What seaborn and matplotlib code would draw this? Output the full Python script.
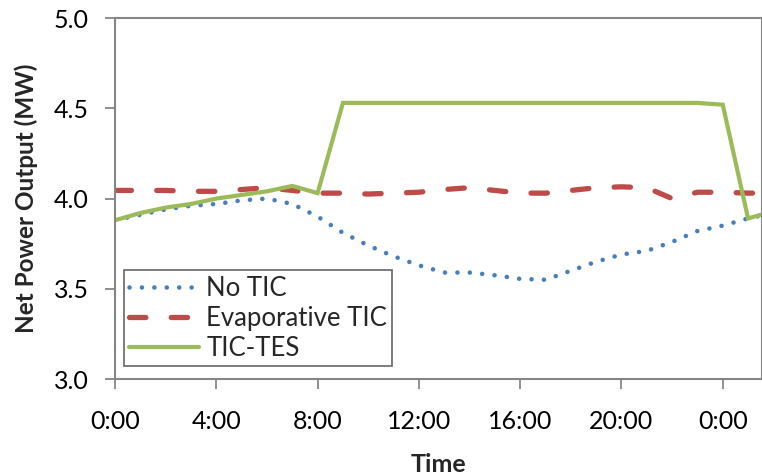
import matplotlib
matplotlib.use("Agg")
import matplotlib.pyplot as plt
import numpy as np
import pandas as pd
import seaborn as sns

# Hourly net power output over one day plus the start of the next (hours 0..26)
hours = list(range(27))
no_tic = [3.88, 3.91, 3.94, 3.96, 3.97, 3.99, 4.00, 3.97, 3.90, 3.81, 3.74, 3.68,
          3.63, 3.59, 3.59, 3.575, 3.555, 3.55, 3.60, 3.65, 3.69, 3.71, 3.76, 3.82,
          3.85, 3.89, 3.92]
evaporative_tic = [4.045, 4.045, 4.045, 4.04, 4.04, 4.05, 4.06, 4.045, 4.03, 4.03,
                   4.025, 4.03, 4.035, 4.05, 4.06, 4.045, 4.03, 4.03, 4.045, 4.06,
                   4.065, 4.06, 4.00, 4.035, 4.035, 4.03, 4.03]
tic_tes = [3.88, 3.92, 3.95, 3.97, 4.00, 4.02, 4.04, 4.07, 4.03, 4.53, 4.53, 4.53,
           4.53, 4.53, 4.53, 4.53, 4.53, 4.53, 4.53, 4.53, 4.53, 4.53, 4.53, 4.53,
           4.52, 3.89, 3.93]
series_names = ["No TIC", "Evaporative TIC", "TIC-TES"]
x_ticks = [0, 4, 8, 12, 16, 20, 24]
x_tick_labels = ["0:00", "4:00", "8:00", "12:00", "16:00", "20:00", "0:00"]
y_ticks = [3.0, 3.5, 4.0, 4.5, 5.0]

df = pd.DataFrame({"hour": hours, series_names[0]: no_tic,
                   series_names[1]: evaporative_tic, series_names[2]: tic_tes})

sns.set_theme(style="white")
plt.rcParams["font.family"] = ["Lato", "DejaVu Sans"]

fig = plt.figure(figsize=(7.62, 4.75), dpi=100)
ax = fig.add_axes([0.151, 0.202, 0.849, 0.760])

styles = {
    "No TIC": dict(color="#4A7EBB", lw=3.3, dashes=(0.01, 2.7)),
    "Evaporative TIC": dict(color="#BE4B48", lw=3.8, dashes=(3.1, 4.8)),
    "TIC-TES": dict(color="#9BBB59", lw=3.0, dashes=None),
}
for name in series_names:
    st = styles[name]
    sns.lineplot(data=df, x="hour", y=name, ax=ax, color=st["color"],
                 linewidth=st["lw"], label=name)
    line = ax.get_lines()[-1]
    if st["dashes"] is not None:
        line.set_dashes(st["dashes"])
        line.set_dash_capstyle("round")
    line.set_solid_joinstyle("miter")

ax.set_xlim(0, 25.55)
ax.set_ylim(3.0, 5.0)
ax.set_xticks(x_ticks)
ax.set_xticklabels(x_tick_labels)
ax.set_yticks(y_ticks)
ax.set_yticklabels([f"{v:.1f}" for v in y_ticks])

for side in ["left", "bottom", "top", "right"]:
    ax.spines[side].set_color("#868686")
    ax.spines[side].set_linewidth(1.5)
ax.tick_params(axis="both", which="major", direction="out", length=7,
               width=1.3, color="#868686", labelsize=18, labelcolor="black",
               bottom=True, left=True)
ax.tick_params(axis="y", pad=12)
ax.tick_params(axis="x", pad=15)

ax.set_xlabel("Time", fontsize=18, fontweight="bold", labelpad=15)
ax.set_ylabel("Net Power Output (MW)", fontsize=17.5, fontweight="bold", labelpad=11)

leg = ax.legend(loc="lower left", bbox_to_anchor=(0.006, 0.022), fontsize=18.5,
                frameon=True, fancybox=False, handlelength=2.7, handletextpad=0.3,
                borderpad=0.2, labelspacing=0.2, borderaxespad=0.2)
leg.get_frame().set_edgecolor("#404040")
leg.get_frame().set_linewidth(1.2)

fig.savefig("out.png", dpi=100)
